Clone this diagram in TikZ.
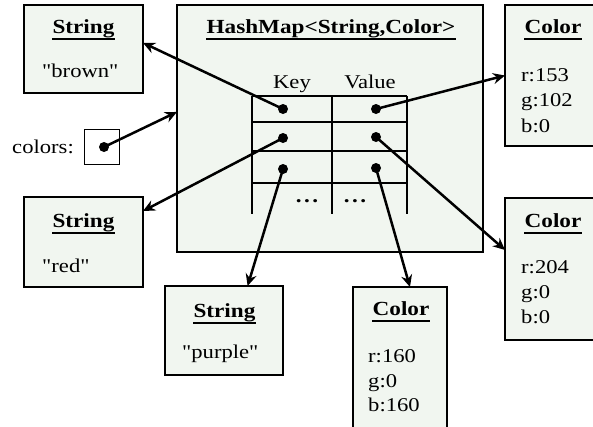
\documentclass[tikz,border=0pt]{standalone}
\usepackage{fontspec}
\setmainfont{Liberation Serif}[FakeStretch=1.16, Ligatures=TeXOff]
\usetikzlibrary{arrows.meta,calc}
\definecolor{boxfill}{RGB}{241,246,240}
\begin{document}
\begin{tikzpicture}[x=1pt,y=-1pt,
  obj/.style={draw, line width=2.5pt, fill=boxfill, inner sep=0pt, outer sep=0pt},
  ttl/.style={font=\bfseries\fontsize{20}{24}\selectfont, inner sep=0pt, anchor=base},
  txt/.style={font=\fontsize{19.5}{24}\selectfont, inner sep=0pt, anchor=base west},
  ref/.style={line width=2.5pt, -{Stealth[length=12pt,width=11pt,inset=4pt]}},
  dotn/.style={circle, fill=black, inner sep=0pt, minimum size=10pt},
  grid/.style={line width=1.3pt},
  uline/.style={line width=2.2pt},
  ell/.style={font=\bfseries\fontsize{20}{24}\selectfont, inner sep=0pt}
]
\useasboundingbox (0,0) rectangle (593,426);
\clip (0,0) rectangle (593,426);
\fill[white] (0,0) rectangle (593,426);

% boxes
\node[obj, minimum width=119pt, minimum height=88pt] (sbrown) at (83.5,49) {};
\node[obj, minimum width=306pt, minimum height=247pt] (hm) at (330,128.5) {};
\node[obj, minimum width=91pt, minimum height=141pt] (c1) at (550.5,75.5) {};
\node[obj, minimum width=91pt, minimum height=142pt] (c2) at (550.5,269) {};
\node[obj, minimum width=119pt, minimum height=90pt] (sred) at (83.5,242) {};
\node[obj, minimum width=118pt, minimum height=89pt] (spurple) at (224,330.5) {};
\node[obj, minimum width=94pt, minimum height=145pt] (c3) at (400,359.5) {};
\node[draw, line width=1pt, fill=white, minimum width=35pt, minimum height=35pt, inner sep=0pt, outer sep=0pt] (colbox) at (101.5,146.5) {};

% titles
\node[ttl] (tbrown) at (83.5,33) {String};
\node[ttl] (tred) at (83.5,227) {String};
\node[ttl] (tpurple) at (224.5,317) {String};
\node[ttl] (tc1) at (553,33) {Color};
\node[ttl] (tc2) at (553,227) {Color};
\node[ttl] (tc3) at (401,315) {Color};
\node[ttl] (thm) at (331,33) {HashMap<String,Color>};
\foreach \t in {tbrown,tred,tpurple,tc1,tc2,tc3,thm}
  \draw[uline] ([yshift=-6pt]\t.base west) -- ([yshift=-6pt]\t.base east);

% values
\node[txt] (vbrown) at (42,77) {"brown"};
\node[txt] (vred) at (42,272) {"red"};
\node[txt] (vpurple) at (182,358) {"purple"};
\node[txt] (c1r) at (521,81) {r:153};
\node[txt] (c1g) at (521,106) {g:102};
\node[txt] (c1b) at (521,132) {b:0};
\node[txt] (c2r) at (521,273) {r:204};
\node[txt] (c2g) at (521,298) {g:0};
\node[txt] (c2b) at (521,323) {b:0};
\node[txt] (c3r) at (368,362) {r:160};
\node[txt] (c3g) at (368,387) {g:0};
\node[txt] (c3b) at (368,411) {b:160};

\node[txt, anchor=base east] (lcolors) at (74,153) {colors:};
\node[txt, anchor=base] (lkey) at (292,88) {Key};
\node[txt, anchor=base] (lvalue) at (370,88) {Value};

% table
\foreach \x in {252,332,407} \draw[grid] (\x,96) -- (\x,214);
\foreach \y in {96,122,151,183} \draw[grid] (252,\y) -- (407,\y);
\node[ell] (ell1) at (307,201) {.\kern2.5pt.\kern2.5pt.};
\node[ell] (ell2) at (355,201) {.\kern2.5pt.\kern2.5pt.};

% dots
\node[dotn] (k1) at (283,109) {};
\node[dotn] (k2) at (283,138) {};
\node[dotn] (k3) at (283,169) {};
\node[dotn] (v1) at (376,109) {};
\node[dotn] (v2) at (376,137) {};
\node[dotn] (v3) at (376,168) {};
\node[dotn] (cd) at (104,147) {};

% arrows
\draw[ref] (k1.center) -- ($(sbrown.north east)!0.43!(sbrown.south east)$);
\draw[ref] (cd.center) -- ($(hm.north west)!0.433!(hm.south west)$);
\draw[ref] (k2.center) -- ($(sred.north east)!0.156!(sred.south east)$);
\draw[ref] (k3.center) -- ($(spurple.north west)!0.70!(spurple.north east)$);
\draw[ref] (v1.center) -- ($(c1.north west)!0.50!(c1.south west)$);
\draw[ref] (v2.center) -- ($(c2.north west)!0.366!(c2.south west)$);
\draw[ref] (v3.center) -- ($(c3.north west)!0.606!(c3.north east)$);
\end{tikzpicture}
\end{document}
